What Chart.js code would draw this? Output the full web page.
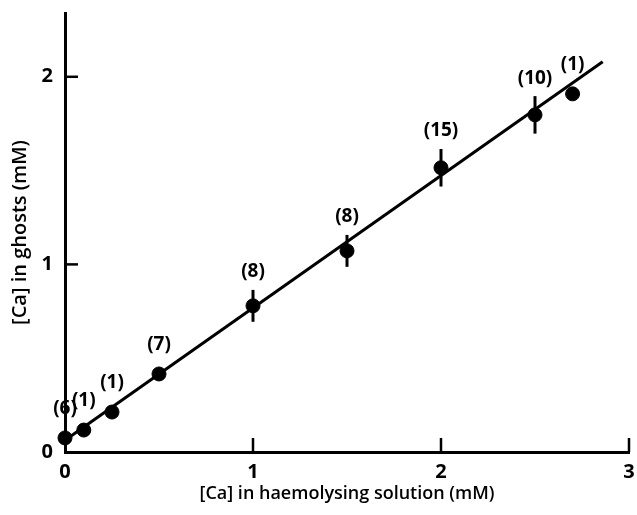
<!DOCTYPE html>
<html>
<head>
<meta charset="utf-8">
<script src="https://cdn.jsdelivr.net/npm/chart.js@4.4.1/dist/chart.umd.min.js"></script>
<style>
    html, body { margin: 0; padding: 0; background: #fff; }
    #wrap { width: 637px; height: 515px; position: relative; }
</style>
</head>
<body>
<div id="wrap"><canvas id="chart"></canvas></div>
<script>
// [Ca] in haemolysing solution (mM)
const xVals = [0, 0.1, 0.25, 0.5, 1, 1.5, 2, 2.5, 2.7];
// [Ca] in ghosts (mM)
const yVals = [0.075, 0.117, 0.213, 0.416, 0.779, 1.072, 1.515, 1.797, 1.909];
const yErr = [0, 0, 0, 0, 0.085, 0.085, 0.1, 0.1, 0];
const nLabels = ['(6)', '(1)', '(1)', '(7)', '(8)', '(8)', '(15)', '(10)', '(1)'];

// fitted line ends
const lineX = [0, 2.86];
const lineY = [0.063, 2.08];

const xTicks = [0, 1, 2, 3];
const yTicks = [0, 1, 2];

const FONT = '"Open Sans", Lato, sans-serif';

function noPad(s) {
    s.paddingTop = 0;
    s.paddingBottom = 0;
    s.paddingLeft = 0;
    s.paddingRight = 0;
}

const extras = {
    id: 'extras',
    afterDatasetsDraw(chart) {
        const { ctx, scales: { x, y } } = chart;
        ctx.save();
        ctx.strokeStyle = '#000';
        ctx.fillStyle = '#000';

        // inward ticks
        ctx.lineWidth = 2.5;
        xTicks.forEach(v => {
            if (v === 0) return;
            const px = x.getPixelForValue(v);
            ctx.beginPath();
            ctx.moveTo(px, y.bottom);
            ctx.lineTo(px, y.bottom - 14);
            ctx.stroke();
        });
        yTicks.forEach(v => {
            if (v === 0) return;
            const py = y.getPixelForValue(v);
            ctx.beginPath();
            ctx.moveTo(x.left, py);
            ctx.lineTo(x.left + 13, py);
            ctx.stroke();
        });

        // error bars
        ctx.lineWidth = 3;
        xVals.forEach((xv, i) => {
            if (!yErr[i]) return;
            const px = x.getPixelForValue(xv);
            ctx.beginPath();
            ctx.moveTo(px, y.getPixelForValue(yVals[i] + yErr[i]));
            ctx.lineTo(px, y.getPixelForValue(yVals[i] - yErr[i]));
            ctx.stroke();
        });

        // n labels
        ctx.font = 'bold 19px ' + FONT;
        ctx.textAlign = 'center';
        ctx.textBaseline = 'middle';
        xVals.forEach((xv, i) => {
            const px = x.getPixelForValue(xv);
            const py = y.getPixelForValue(yVals[i]);
            const errPx = yErr[i] ? py - y.getPixelForValue(yVals[i] + yErr[i]) : 0;
            const off = Math.max(29, errPx + 18);
            ctx.fillText(nLabels[i], px, py - off);
        });
        ctx.restore();
    }
};

new Chart(document.getElementById('chart'), {
    type: 'scatter',
    data: {
        datasets: [
            {
                label: 'points',
                data: xVals.map((v, i) => ({ x: v, y: yVals[i] })),
                backgroundColor: '#000',
                borderColor: '#000',
                pointRadius: 7,
                pointHoverRadius: 7,
                clip: false,
                order: 0,
            },
            {
                label: 'fit',
                type: 'line',
                data: lineX.map((v, i) => ({ x: v, y: lineY[i] })),
                borderColor: '#000',
                borderWidth: 3,
                pointRadius: 0,
                fill: false,
                clip: false,
                order: 1,
            },
        ],
    },
    options: {
        responsive: true,
        maintainAspectRatio: false,
        animation: false,
        layout: { padding: { top: 13, right: 5, left: 0, bottom: 0 } },
        plugins: {
            legend: { display: false },
            tooltip: { enabled: false },
        },
        scales: {
            x: {
                type: 'linear',
                min: 0,
                max: 3,
                afterBuildTicks: (s) => { s.ticks = xTicks.map(v => ({ value: v })); },
                afterFit: (s) => { s.height = 63; noPad(s); },
                grid: { display: false, drawTicks: false },
                border: { display: true, color: '#000', width: 3 },
                ticks: {
                    padding: 8,
                    color: '#000',
                    font: { family: FONT, size: 20, weight: 'bold' },
                },
                title: {
                    display: true,
                    text: '[Ca] in haemolysing solution (mM)',
                    color: '#000',
                    font: { family: FONT, size: 18, weight: '600' },
                    padding: { top: 0, bottom: 10 },
                },
            },
            y: {
                type: 'linear',
                min: 0,
                max: 2.34,
                afterBuildTicks: (s) => { s.ticks = yTicks.map(v => ({ value: v })); },
                afterFit: (s) => { s.width = 65; noPad(s); },
                grid: { display: false, drawTicks: false },
                border: { display: true, color: '#000', width: 3 },
                ticks: {
                    padding: 12,
                    color: '#000',
                    font: { family: FONT, size: 20, weight: 'bold' },
                },
                title: {
                    display: true,
                    text: '[Ca] in ghosts (mM)',
                    color: '#000',
                    font: { family: FONT, size: 20, weight: '600' },
                    padding: { top: 8, bottom: 0 },
                },
            },
        },
    },
    plugins: [extras],
});
</script>
</body>
</html>
